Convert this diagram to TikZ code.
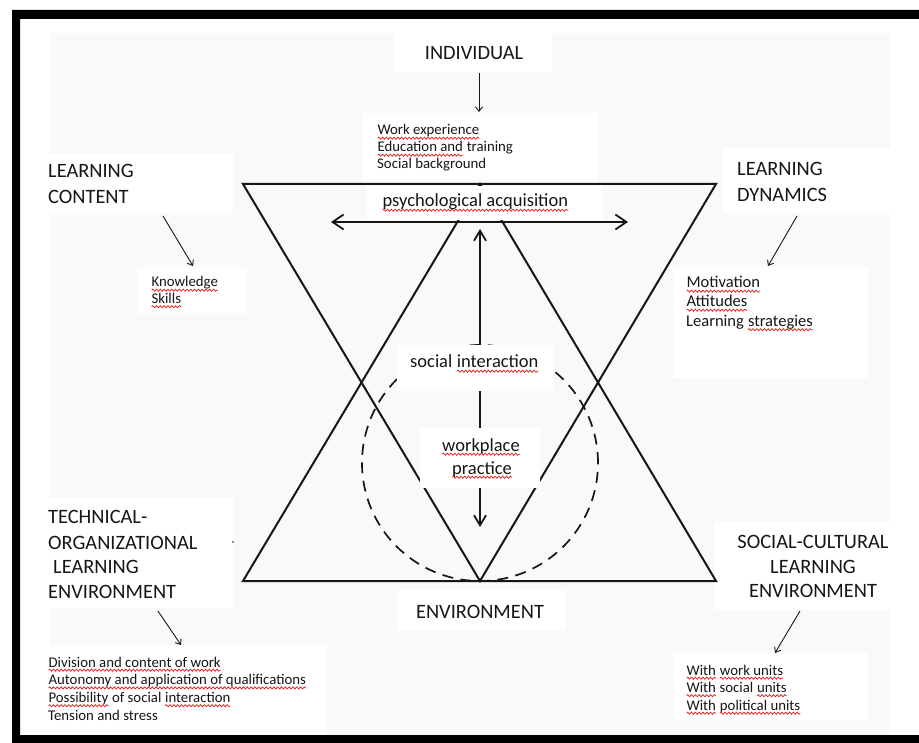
\documentclass[tikz,border=0pt]{standalone}
\usepackage{fontspec}
\setmainfont{Carlito}
\usetikzlibrary{arrows.meta,decorations.pathmorphing}
\definecolor{panelgray}{RGB}{248,249,249}
\definecolor{ink}{RGB}{22,22,22}
\definecolor{spellred}{RGB}{235,30,30}
% red wavy underline under a word or phrase
\newcommand\sq[1]{\tikz[baseline=(sqw.base)]{%
  \node[inner sep=0pt,outer sep=0pt,anchor=base west,draw=none,fill=none] (sqw) at (0pt,0pt) {#1};%
  \draw[spellred,line width=0.75pt,decorate,decoration={snake,amplitude=1.05pt,segment length=3.8pt}]
    ([yshift=-3.2pt]sqw.base west) -- ([yshift=-3.2pt]sqw.base east);}}
\tikzset{
  caps/.style={font=\fontsize{20.4}{24}\selectfont, inner sep=0pt, text=ink},
  mid/.style={font=\fontsize{18.5}{22}\selectfont, inner sep=0pt, text=ink},
  medium/.style={font=\fontsize{16.5}{19}\selectfont, inner sep=0pt, text=ink},
  small/.style={font=\fontsize{14.8}{17}\selectfont, inner sep=0pt, text=ink},
  shapeline/.style={line width=2pt, line join=miter, draw=ink},
  mainarrow/.style={line width=1.8pt, draw=ink},
  hhead/.tip={Straight Barb[length=11pt,width=15pt]},
  vhead/.tip={Straight Barb[length=10pt,width=12pt]},
  pointer/.style={line width=0.9pt, draw=ink, -{Straight Barb[length=4.5pt,width=7pt]}},
  dashring/.style={line width=1.7pt, draw=ink, dash pattern=on 11pt off 7.5pt},
}
\begin{document}
\begin{tikzpicture}[x=1pt,y=-1pt]
\useasboundingbox (0,0) rectangle (919,743);
% outer frame and panel
\fill[white] (0,0) rectangle (919,743);
\fill[black,even odd rule] (12,10) rectangle (930,750) (20,19) rectangle (930,735);
\fill[panelgray] (50,33) rectangle (890,735);

% text backgrounds
\fill[white] (393,33) rectangle (552,72);
\fill[white] (363,113) rectangle (598,184);
\fill[white] (50,154) rectangle (233,213);
\fill[white] (137,267) rectangle (247,313);
\fill[white] (723,148) rectangle (890,213);
\fill[white] (673,267) rectangle (868,378);
\fill[white] (50,498) rectangle (233,608);
\fill[white] (50,645) rectangle (327,735);
\fill[white] (397,590) rectangle (565,630);
\fill[white] (715,522) rectangle (890,610);
\fill[white] (673,653) rectangle (868,720);

% key points
\coordinate (TL) at (243,184);
\coordinate (TR) at (716,184);
\coordinate (TA) at (480,184);
\coordinate (BL) at (243,581);
\coordinate (BR) at (716,581);
\coordinate (BA) at (480,581);
\coordinate (ringc) at (480,463);
\coordinate (hl) at (331,222);
\coordinate (hr) at (628,222);
\coordinate (vtop) at (480,229);
\coordinate (vbot) at (480,527);

% two triangles
\draw[shapeline] (TL) -- (TR) -- (BA) -- cycle;
\draw[shapeline] (BL) -- (BR) -- (TA) -- cycle;
% dashed ring
\draw[dashring] (ringc) circle[radius=118pt];
% main arrows
\draw[mainarrow, hhead-hhead] (hl) -- (hr);
\draw[mainarrow, vhead-vhead] (vtop) -- (vbot);

% labels that sit on top of the lines
\fill[white] (367,186) rectangle (603,220.5);
\fill[white] (397,345) rectangle (553,391);
\fill[white] (420,428) rectangle (540,488);

% small mark
\fill[ink] (233,542) circle[radius=0.9pt];

% texts
\node[caps,anchor=base] (individual) at (474,60) {INDIVIDUAL};
\node[small,anchor=base west] (we1) at (377,135) {\sq{Work experience}};
\node[small,anchor=base west] (we2) at (377,152) {\sq{Education and} training};
\node[small,anchor=base west] (we3) at (377,169) {Social background};
\node[mid,anchor=base west] (psych) at (382,207) {\sq{psychological acquisition}};

\node[caps,anchor=base west] (lc1) at (48,178) {LEARNING};
\node[caps,anchor=base west] (lc2) at (48,204) {CONTENT};
\node[small,anchor=base west] (kn1) at (151,287) {\sq{Knowledge}};
\node[small,anchor=base west] (kn2) at (151,303.5) {\sq{Skills}};

\node[caps,anchor=base west] (ld1) at (737,175.5) {LEARNING};
\node[caps,anchor=base west] (ld2) at (737,202) {DYNAMICS};
\node[medium,anchor=base west] (mo1) at (686,288) {\sq{Motivation}};
\node[medium,anchor=base west] (mo2) at (686,307) {\sq{Attitudes}};
\node[medium,anchor=base west] (mo3) at (686,326.5) {Learning \sq{strategies}};

\node[mid,anchor=base west] (social) at (410,368) {social \sq{interaction}};
\node[mid,anchor=base] (wp1) at (481,451) {\sq{workplace}};
\node[mid,anchor=base] (wp2) at (482,474) {\sq{practice}};

\node[caps,anchor=base west] (to1) at (48,523) {TECHNICAL-};
\node[caps,anchor=base west] (to2) at (48,549) {ORGANIZATIONAL};
\node[caps,anchor=base west] (to3) at (53,573) {LEARNING};
\node[caps,anchor=base west] (to4) at (48,598) {ENVIRONMENT};
\node[small,anchor=base west] (dv1) at (48,667) {\sq{Division and content of work}};
\node[small,anchor=base west] (dv2) at (48,684.7) {\sq{Autonomy and application of qualifications}};
\node[small,anchor=base west] (dv3) at (48,702.5) {\sq{Possibility} of social \sq{interaction}};
\node[small,anchor=base west] (dv4) at (48,720.3) {Tension and stress};

\node[caps,anchor=base] (env) at (480,618) {ENVIRONMENT};

\node[caps,anchor=base] (sc1) at (813,548) {SOCIAL-CULTURAL};
\node[caps,anchor=base] (sc2) at (813,573) {LEARNING};
\node[caps,anchor=base] (sc3) at (813,597.5) {ENVIRONMENT};
\node[small,anchor=base west] (wu1) at (686,675) {\sq{With} \sq{work units}};
\node[small,anchor=base west] (wu2) at (686,692.5) {\sq{With} social \sq{units}};
\node[small,anchor=base west] (wu3) at (686,710) {\sq{With} \sq{political units}};

% pointers from headings to their lists
\coordinate (p1s) at (479,73);  \coordinate (p1e) at (479,112);
\coordinate (p2s) at (163,216); \coordinate (p2e) at (193,266);
\coordinate (p3s) at (797,216); \coordinate (p3e) at (768,266);
\coordinate (p4s) at (158,611); \coordinate (p4e) at (181,645);
\coordinate (p5s) at (800,611); \coordinate (p5e) at (775,653);
\draw[pointer] (p1s) -- (p1e);
\draw[pointer] (p2s) -- (p2e);
\draw[pointer] (p3s) -- (p3e);
\draw[pointer] (p4s) -- (p4e);
\draw[pointer] (p5s) -- (p5e);
\end{tikzpicture}
\end{document}
